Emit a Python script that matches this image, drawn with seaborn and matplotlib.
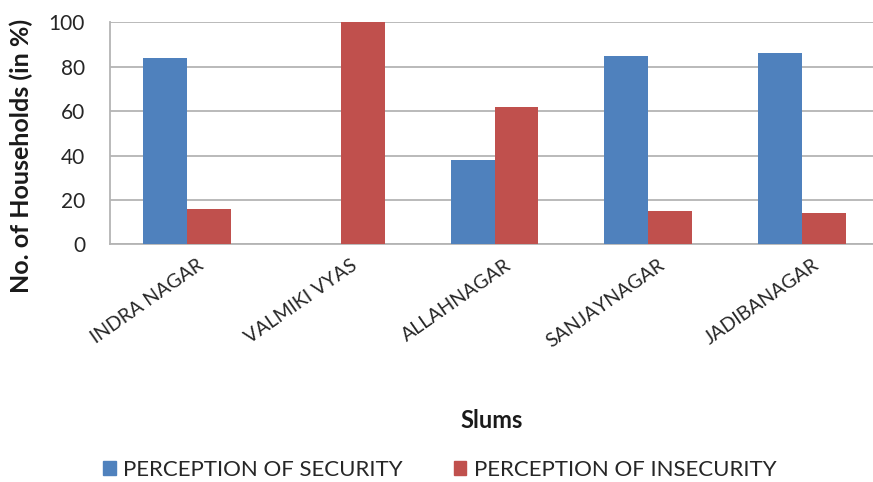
import matplotlib
matplotlib.use("Agg")
import matplotlib.pyplot as plt
import matplotlib.transforms as mtransforms
import seaborn as sns
import pandas as pd

# Survey results per slum (% of households)
slums = ["INDRA NAGAR", "VALMIKI VYAS", "ALLAHNAGAR", "SANJAYNAGAR", "JADIBANAGAR"]
security = [84, 0, 38, 85, 86]
insecurity = [16, 100, 62, 15, 14]
series_names = ["PERCEPTION OF SECURITY", "PERCEPTION OF INSECURITY"]
y_ticks = [0, 20, 40, 60, 80, 100]

df = pd.DataFrame({
    "Slum": slums * 2,
    "Series": [series_names[0]] * len(slums) + [series_names[1]] * len(slums),
    "Value": security + insecurity,
})

sns.set_theme(style="white")
plt.rcParams["font.family"] = ["Lato", "DejaVu Sans"]

W, H = 873, 482
fig = plt.figure(figsize=(W / 100, H / 100), dpi=100)
left, right, top, bottom = 110, 879, 22.3, 244.3
ax = fig.add_axes([left / W, 1 - bottom / H, (right - left) / W, (bottom - top) / H])

palette = {series_names[0]: "#4F81BD", series_names[1]: "#C0504D"}
sns.barplot(data=df, x="Slum", y="Value", hue="Series", palette=palette,
            width=0.57, gap=0, saturation=1, linewidth=0, edgecolor="none",
            ax=ax, legend=False, zorder=3)

grid_color = "#B4B4B4"
text_color = "#262626"
ax.set_ylim(0, 100)
ax.set_xlim(-0.5, len(slums) - 0.5)
ax.set_yticks(y_ticks)
ax.set_yticklabels([str(v) for v in y_ticks], fontsize=15, color=text_color)
ax.yaxis.grid(True, color=grid_color, linewidth=1.3, zorder=0)
ax.xaxis.grid(False)
ax.tick_params(axis="y", length=9, width=1, color=grid_color, pad=9)

# category labels centred, tick marks on category boundaries
ax.set_xticks(range(len(slums)))
ax.set_xticks([i - 0.5 for i in range(len(slums) + 1)], minor=True)
ax.tick_params(axis="x", which="major", length=0, pad=0)
ax.tick_params(axis="x", which="minor", length=8, width=1, color=grid_color)
ax.set_xticklabels(slums, rotation=35, ha="right", va="top",
                   rotation_mode="anchor", fontsize=14, color=text_color)
offset = mtransforms.ScaledTranslation(10 / 100, -12 / 100, fig.dpi_scale_trans)
for lbl in ax.get_xticklabels():
    lbl.set_transform(lbl.get_transform() + offset)

for side in ["top", "right"]:
    ax.spines[side].set_visible(False)
for side in ["left", "bottom"]:
    ax.spines[side].set_color(grid_color)
    ax.spines[side].set_linewidth(1.3)

ax.set_xlabel("")
ax.set_ylabel("")
fig.text(21 / W, 1 - 156 / H, "No. of Households (in %)", rotation=90,
         ha="center", va="center", fontsize=18, fontweight="bold", color="#1a1a1a")
fig.text(492 / W, 1 - 421 / H, "Slums", ha="center", va="center",
         fontsize=17, fontweight="bold", color="#1a1a1a")

handles = [plt.Rectangle((0, 0), 1, 1, color=palette[n]) for n in series_names]
fig.legend(handles, series_names, loc="center", ncol=2,
           bbox_to_anchor=(440 / W, 1 - 470 / H), frameon=False,
           fontsize=16, handlelength=0.55, handleheight=0.55,
           handletextpad=0.35, columnspacing=2.3, labelcolor=text_color)

fig.savefig("out.png", dpi=100)
